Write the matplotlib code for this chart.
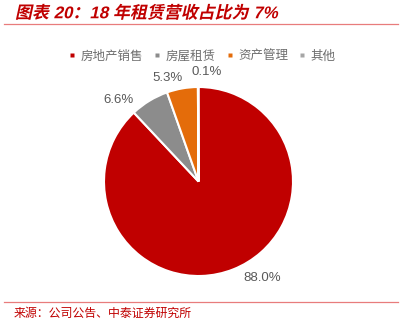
import matplotlib
matplotlib.use("Agg")
import matplotlib.pyplot as plt
from matplotlib.lines import Line2D
from matplotlib.patheffects import AbstractPathEffect
from matplotlib.transforms import Affine2D
import numpy as np

plt.rcParams['font.family'] = ['Liberation Sans', 'Noto Sans CJK SC', 'DejaVu Sans']

categories = ['房地产销售', '房屋租赁', '资产管理', '其他']
shares = [88.0, 6.6, 5.3, 0.1]
colors = ['#C00000', '#8C8C8C', '#E46C0A', '#A6A6A6']
title_text = '图表 20：18 年租赁营收占比为 7%'
source_text = '来源：公司公告、中泰证券研究所'

RED = '#C00000'
GREY_TXT = '#595959'


class Slant(AbstractPathEffect):
    """Shear glyph outlines about their baseline to get an oblique look."""

    def __init__(self, k=0.25):
        super().__init__()
        self.k = k

    def draw_path(self, renderer, gc, tpath, affine, rgbFace=None):
        y0 = affine.get_matrix()[1, 2]
        x0 = affine.get_matrix()[0, 2]
        shear = (Affine2D().translate(-x0, -y0)
                 .skew(np.arctan(self.k), 0).translate(x0, y0))
        renderer.draw_path(gc, tpath, affine + shear, rgbFace)


W, H = 401, 325
fig = plt.figure(figsize=(W / 100, H / 100), dpi=100)

# title and rules
fig.text(15 / W, 1 - 13 / H, title_text, color=RED, fontsize=12.2,
         fontweight='bold', va='center', ha='left',
         path_effects=[Slant(0.22)])
fig.add_artist(Line2D([4 / W, 398 / W], [1 - 24 / H, 1 - 24 / H],
                      color='#E87C7C', lw=0.9))
fig.add_artist(Line2D([4 / W, 398 / W], [1 - 302 / H, 1 - 302 / H],
                      color='#E87C7C', lw=0.9))
fig.text(14 / W, 1 - 314 / H, source_text, color=RED, fontsize=8.6,
         va='center', ha='left')

# pie
cx, cy, r = 198.5, 181.5, 94.5
half = 1.375
side = 2 * half * r
ax = fig.add_axes([(cx - side / 2) / W, (H - cy - side / 2) / H, side / W, side / H])
wedges, _ = ax.pie(shares, colors=colors, startangle=90, counterclock=False,
                   radius=1.0, wedgeprops=dict(edgecolor='white', linewidth=1.5))
ax.set_xlim(-half, half)
ax.set_ylim(-half, half)
ax.set_aspect('auto')
ax.axis('off')

# value labels placed outside each wedge
label_shift = [(12.0, 1.22), (13.0, 1.21), (7.0, 1.14), (-4.5, 1.16)]
for w, v, (dang, dist) in zip(wedges, shares, label_shift):
    mid = np.deg2rad((w.theta1 + w.theta2) / 2 + dang)
    ax.text(dist * np.cos(mid), dist * np.sin(mid), f'{v:.1f}%',
            ha='center', va='center', fontsize=9.5, color=GREY_TXT)

# legend with small square markers
handles = [Line2D([], [], ls='none', marker='s', markersize=3.2,
                  markerfacecolor=c, markeredgecolor='none') for c in colors]
leg = fig.legend(handles, categories, loc='center', ncol=4,
                 bbox_to_anchor=(203 / W, 1 - 56 / H), frameon=False,
                 prop={'family': ['Noto Sans CJK SC'], 'size': 9, 'weight': 'light'},
                 handlelength=0.3, handletextpad=0.5, columnspacing=1.0,
                 labelcolor='#6E6E6E')

fig.savefig('out.png', dpi=100)
